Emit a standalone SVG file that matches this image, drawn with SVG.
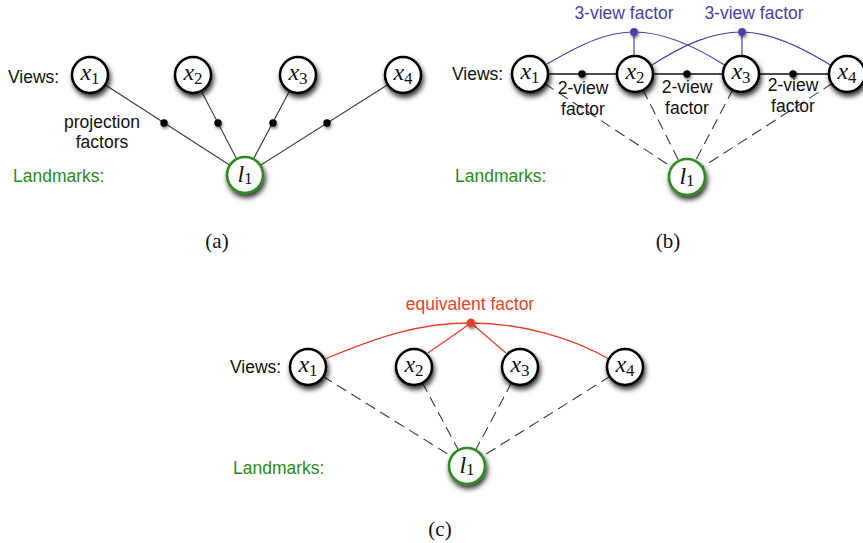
<svg xmlns="http://www.w3.org/2000/svg" width="863" height="543" viewBox="0 0 863 543">
  <defs>
    <filter id="shadow" x="-50%" y="-50%" width="200%" height="200%">
      <feDropShadow dx="1.5" dy="3.5" stdDeviation="2.6" flood-color="#000" flood-opacity="0.8"/>
    </filter>
    <filter id="dotShadow" x="-100%" y="-100%" width="300%" height="300%">
      <feDropShadow dx="1" dy="2" stdDeviation="1.5" flood-color="#000" flood-opacity="0.5"/>
    </filter>
  </defs>
  <style>
    .lbl { font-family: "Liberation Sans", Arial, sans-serif; font-size: 17.5px; fill: #111; }
    .green { fill: #2a8a22; }
    .blue { fill: #4b3fa8; }
    .red { fill: #e5412a; }
    .cap { font-family: "Liberation Serif", "Times New Roman", serif; font-size: 21px; fill: #111; text-anchor: middle; }
    .view circle { fill: #fff; stroke: #000; stroke-width: 2.5; filter: url(#shadow); }
    .lm circle { fill: #fff; stroke: #2e8b22; stroke-width: 2.6; filter: url(#shadow); }
    .math { font-family: "Liberation Serif", "Times New Roman", serif; font-size: 24px; fill: #111; text-anchor: middle; }
    .math .v { font-style: italic; }
    .math .s { font-size: 17px; }
    .solid { stroke: #3a3a3a; stroke-width: 1.1; fill: none; }
    .dash { stroke: #3a3a3a; stroke-width: 1.1; fill: none; stroke-dasharray: 11 6; }
    .chain { stroke: #111; stroke-width: 1.5; fill: none; }
    .bl { stroke: #4b3fa8; stroke-width: 1.2; fill: none; }
    .rd { stroke: #e5412a; stroke-width: 1.3; fill: none; }
    .fdot { fill: #000; filter: url(#dotShadow); }
    .bdot { fill: #4b3fa8; filter: url(#dotShadow); }
    .rdot { fill: #e5412a; filter: url(#dotShadow); }
  </style>

  <!-- ===== Panel (a): projection factors ===== -->
  <g id="connectors-a">
    <line class="solid" x1="90" y1="75" x2="245" y2="175"/>
    <line class="solid" x1="193" y1="75" x2="245" y2="175"/>
    <line class="solid" x1="298" y1="75" x2="245" y2="175"/>
    <line class="solid" x1="403" y1="75" x2="245" y2="175"/>
    <circle class="fdot" cx="164" cy="123" r="3.7"/>
    <circle class="fdot" cx="218" cy="123" r="3.7"/>
    <circle class="fdot" cx="273" cy="123" r="3.7"/>
    <circle class="fdot" cx="327" cy="123" r="3.7"/>
  </g>
  <g id="a-x1" class="view"><circle cx="90" cy="75" r="18"/><text class="math" x="90" y="80"><tspan class="v">x</tspan><tspan class="s" dy="4">1</tspan></text></g>
  <g id="a-x2" class="view"><circle cx="193" cy="75" r="18"/><text class="math" x="193" y="80"><tspan class="v">x</tspan><tspan class="s" dy="4">2</tspan></text></g>
  <g id="a-x3" class="view"><circle cx="298" cy="75" r="18"/><text class="math" x="298" y="80"><tspan class="v">x</tspan><tspan class="s" dy="4">3</tspan></text></g>
  <g id="a-x4" class="view"><circle cx="403" cy="75" r="18"/><text class="math" x="403" y="80"><tspan class="v">x</tspan><tspan class="s" dy="4">4</tspan></text></g>
  <g id="a-l1" class="lm"><circle cx="245" cy="175" r="18"/><text class="math" x="245" y="182"><tspan class="v">l</tspan><tspan class="s" dy="2">1</tspan></text></g>
  <text class="lbl" x="8" y="83">Views:</text>
  <text class="lbl" x="102" y="128" text-anchor="middle">projection</text>
  <text class="lbl" x="102" y="148" text-anchor="middle">factors</text>
  <text class="lbl green" x="13" y="182">Landmarks:</text>
  <text class="cap" x="217" y="248">(a)</text>

  <!-- ===== Panel (b): 2-view and 3-view factors ===== -->
  <g id="connectors-b">
    <line class="dash" x1="530" y1="74" x2="687" y2="177"/>
    <line class="dash" x1="635" y1="74" x2="687" y2="177"/>
    <line class="dash" x1="741" y1="74" x2="687" y2="177"/>
    <line class="dash" x1="847" y1="74" x2="687" y2="177"/>
    <line class="chain" x1="530" y1="74" x2="847" y2="74"/>
    <path class="bl" d="M547,64 C585,42 608,32 634,32 C662,32 695,46 726,66"/>
    <path class="bl" d="M652,65 C685,44 712,32 742,32 C770,32 800,46 832,66"/>
    <line class="bl" x1="634" y1="32" x2="634" y2="57"/>
    <line class="bl" x1="742" y1="32" x2="742" y2="57"/>
    <circle class="fdot" cx="582" cy="74" r="3.7"/>
    <circle class="fdot" cx="687" cy="74" r="3.7"/>
    <circle class="fdot" cx="793" cy="74" r="3.7"/>
    <circle class="bdot" cx="634" cy="32" r="3.9"/>
    <circle class="bdot" cx="742" cy="32" r="3.9"/>
  </g>
  <g id="b-x1" class="view"><circle cx="530" cy="74" r="18"/><text class="math" x="530" y="79"><tspan class="v">x</tspan><tspan class="s" dy="4">1</tspan></text></g>
  <g id="b-x2" class="view"><circle cx="635" cy="74" r="18"/><text class="math" x="635" y="79"><tspan class="v">x</tspan><tspan class="s" dy="4">2</tspan></text></g>
  <g id="b-x3" class="view"><circle cx="741" cy="74" r="18"/><text class="math" x="741" y="79"><tspan class="v">x</tspan><tspan class="s" dy="4">3</tspan></text></g>
  <g id="b-x4" class="view"><circle cx="847" cy="74" r="18"/><text class="math" x="847" y="79"><tspan class="v">x</tspan><tspan class="s" dy="4">4</tspan></text></g>
  <g id="b-l1" class="lm"><circle cx="687" cy="177" r="18"/><text class="math" x="687" y="184"><tspan class="v">l</tspan><tspan class="s" dy="2">1</tspan></text></g>
  <text class="lbl" x="452" y="80">Views:</text>
  <text class="lbl green" x="455" y="182">Landmarks:</text>
  <text class="lbl blue" x="624" y="19" text-anchor="middle">3-view factor</text>
  <text class="lbl blue" x="754" y="19" text-anchor="middle">3-view factor</text>
  <text class="lbl" x="583" y="94" text-anchor="middle">2-view</text>
  <text class="lbl" x="583" y="115" text-anchor="middle">factor</text>
  <text class="lbl" x="687" y="93" text-anchor="middle">2-view</text>
  <text class="lbl" x="687" y="114" text-anchor="middle">factor</text>
  <text class="lbl" x="793" y="91" text-anchor="middle">2-view</text>
  <text class="lbl" x="793" y="112" text-anchor="middle">factor</text>
  <text class="cap" x="668" y="248">(b)</text>

  <!-- ===== Panel (c): equivalent factor ===== -->
  <g id="connectors-c">
    <line class="dash" x1="308" y1="367" x2="467" y2="466"/>
    <line class="dash" x1="414" y1="367" x2="467" y2="466"/>
    <line class="dash" x1="520" y1="367" x2="467" y2="466"/>
    <line class="dash" x1="625" y1="367" x2="467" y2="466"/>
    <path class="rd" d="M325,359 C380,336 420,323 471,323 C522,323 572,338 609,359"/>
    <line class="rd" x1="471" y1="323" x2="428" y2="353"/>
    <line class="rd" x1="471" y1="323" x2="506" y2="353"/>
    <circle class="rdot" cx="471" cy="323" r="4.4"/>
  </g>
  <g id="c-x1" class="view"><circle cx="308" cy="367" r="18"/><text class="math" x="308" y="372"><tspan class="v">x</tspan><tspan class="s" dy="4">1</tspan></text></g>
  <g id="c-x2" class="view"><circle cx="414" cy="367" r="18"/><text class="math" x="414" y="372"><tspan class="v">x</tspan><tspan class="s" dy="4">2</tspan></text></g>
  <g id="c-x3" class="view"><circle cx="520" cy="367" r="18"/><text class="math" x="520" y="372"><tspan class="v">x</tspan><tspan class="s" dy="4">3</tspan></text></g>
  <g id="c-x4" class="view"><circle cx="625" cy="367" r="18"/><text class="math" x="625" y="372"><tspan class="v">x</tspan><tspan class="s" dy="4">4</tspan></text></g>
  <g id="c-l1" class="lm"><circle cx="467" cy="466" r="18"/><text class="math" x="467" y="473"><tspan class="v">l</tspan><tspan class="s" dy="2">1</tspan></text></g>
  <text class="lbl" x="230" y="373">Views:</text>
  <text class="lbl green" x="233" y="474">Landmarks:</text>
  <text class="lbl red" x="470" y="310" text-anchor="middle">equivalent factor</text>
  <text class="cap" x="440" y="536">(c)</text>
</svg>
